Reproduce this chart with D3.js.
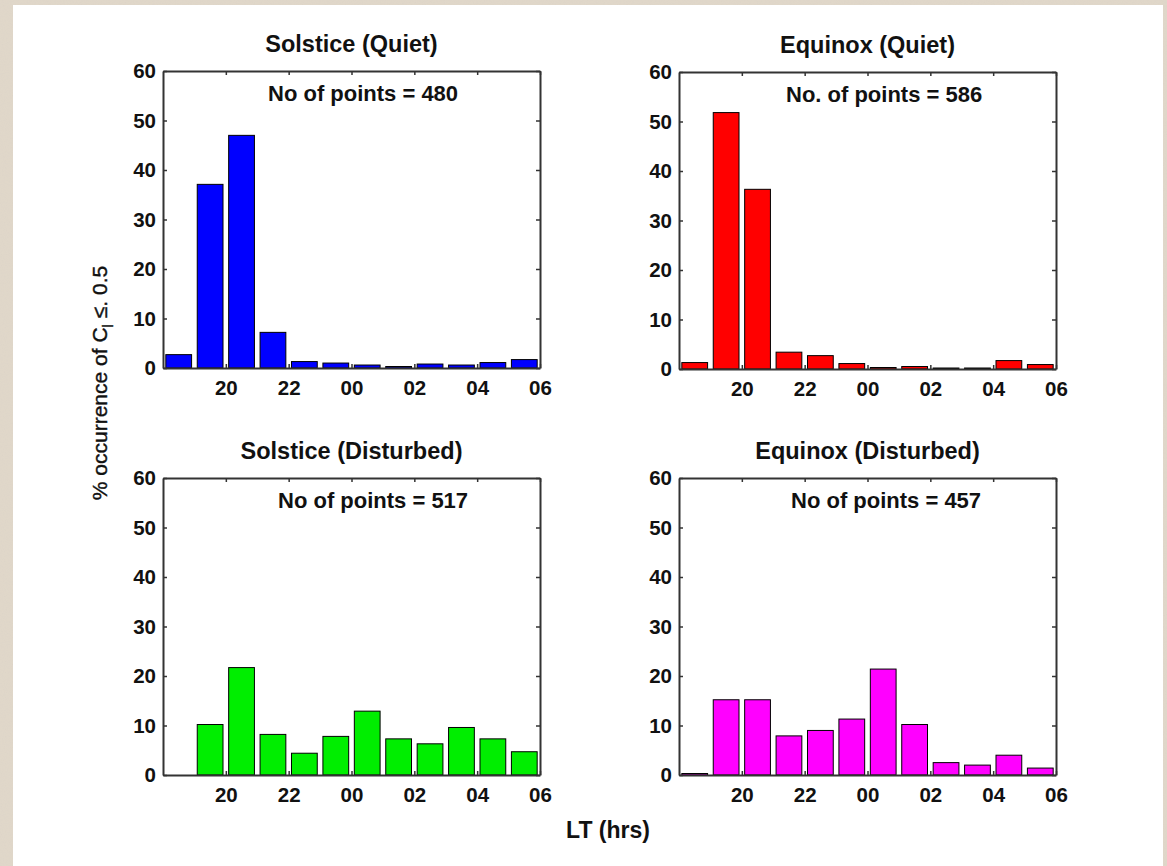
<!DOCTYPE html>
<html>
<head>
<meta charset="utf-8">
<script src="https://cdn.jsdelivr.net/npm/d3@7"></script>
<style>
  html, body { margin: 0; padding: 0; background: #ddd3c4; }
  svg { display: block; }
</style>
</head>
<body>
<svg id="chart" width="1167" height="866"></svg>
<script>
// hour bins (start of each 1-hour bin, 24+ means next day)
var bins = [18, 19, 20, 21, 22, 23, 24, 25, 26, 27, 28, 29];
var hourTicks = [20, 22, 24, 26, 28, 30];
var pctTicks = [0, 10, 20, 30, 40, 50, 60];

// % occurrence per bin
var solsticeQuiet = [2.7, 37.1, 47.0, 7.2, 1.3, 1.0, 0.6, 0.3, 0.8, 0.6, 1.1, 1.7];
var equinoxQuiet = [1.3, 51.8, 36.3, 3.4, 2.7, 1.1, 0.3, 0.5, 0.2, 0.2, 1.7, 0.9];
var solsticeDisturbed = [0, 10.2, 21.7, 8.2, 4.4, 7.8, 12.9, 7.3, 6.3, 9.6, 7.3, 4.7];
var equinoxDisturbed = [0.3, 15.2, 15.2, 7.9, 9.0, 11.3, 21.4, 10.2, 2.5, 2.0, 4.0, 1.4];

var panelTitles = ["Solstice (Quiet)", "Equinox (Quiet)", "Solstice (Disturbed)", "Equinox (Disturbed)"];
var pointCounts = ["No of points = 480", "No. of points = 586", "No of points = 517", "No of points = 457"];

var panels = [
    {title: panelTitles[0], note: pointCounts[0], values: solsticeQuiet, color: "#0000ff", left: 163, top: 71, noteX: 268},
    {title: panelTitles[1], note: pointCounts[1], values: equinoxQuiet, color: "#ff0000", left: 679, top: 72, noteX: 786},
    {title: panelTitles[2], note: pointCounts[2], values: solsticeDisturbed, color: "#00ee00", left: 163, top: 478, noteX: 278},
    {title: panelTitles[3], note: pointCounts[3], values: equinoxDisturbed, color: "#ff00ff", left: 679, top: 478, noteX: 791}
];

var svg = d3.select("#chart"),
    pw = 377,
    ph = 297,
    font = "Liberation Sans, Arial, sans-serif";

// paper texture around the white sheet
var defs = svg.append("defs");
var f = defs.append("filter").attr("id", "paper").attr("x", 0).attr("y", 0).attr("width", 1).attr("height", 1);
f.append("feTurbulence").attr("type", "fractalNoise").attr("baseFrequency", 0.9).attr("numOctaves", 2).attr("seed", 3);
f.append("feColorMatrix").attr("type", "matrix")
    .attr("values", "0 0 0 0 0.72  0 0 0 0 0.66  0 0 0 0 0.58  0 0 0 -2 1.3");

svg.append("rect").attr("width", 1167).attr("height", 866).attr("fill", "#e0d7c9");
svg.append("rect").attr("width", 1167).attr("height", 866).attr("filter", "url(#paper)").attr("opacity", 0.7);
svg.append("rect").attr("x", 13).attr("y", 5).attr("width", 1150).attr("height", 861).attr("fill", "#fff");

var fmtHour = function (d) {
    var h = d % 24;
    return (h < 10 ? "0" : "") + h;
};

panels.forEach(function (p) {
    var x = d3.scaleLinear().domain([18, 30]).range([0, pw]);
    var y = d3.scaleLinear().domain([0, 60]).range([ph, 0]);
    var bw = (x(19) - x(18)) * 0.82;

    var g = svg.append("g").attr("transform", "translate(" + p.left + "," + p.top + ")");

    g.append("g")
        .selectAll("rect")
        .data(p.values)
        .enter().append("rect")
        .attr("x", function (d, i) { return x(bins[i] + 0.5) - bw / 2; })
        .attr("y", function (d) { return y(d); })
        .attr("width", bw)
        .attr("height", function (d) { return ph - y(d); })
        .attr("fill", p.color)
        .attr("stroke", "#000")
        .attr("stroke-width", 1);

    // axes, ticks pointing inwards like matlab
    var xb = g.append("g")
        .attr("transform", "translate(0," + ph + ")")
        .call(d3.axisBottom(x).tickValues(hourTicks).tickFormat(fmtHour).tickSizeInner(-4).tickSizeOuter(0).tickPadding(12));
    var xt = g.append("g")
        .call(d3.axisTop(x).tickValues(hourTicks).tickFormat("").tickSizeInner(-4).tickSizeOuter(0));
    var yl = g.append("g")
        .call(d3.axisLeft(y).tickValues(pctTicks).tickSizeInner(-4).tickSizeOuter(0).tickPadding(7));
    var yr = g.append("g")
        .attr("transform", "translate(" + pw + ",0)")
        .call(d3.axisRight(y).tickValues(pctTicks).tickFormat("").tickSizeInner(-4).tickSizeOuter(0));

    [xb, xt, yl, yr].forEach(function (a) {
        a.select(".domain").attr("stroke", "#333").attr("stroke-width", 2);
        a.selectAll(".tick line").attr("stroke", "#333").attr("stroke-width", 1.5);
        a.selectAll("text")
            .attr("font-family", font)
            .attr("font-size", 20.5)
            .attr("font-weight", "bold")
            .attr("fill", "#111");
    });

    svg.append("text")
        .attr("x", p.left + pw / 2)
        .attr("y", p.top - 19)
        .attr("text-anchor", "middle")
        .attr("font-family", font)
        .attr("font-size", 23.5)
        .attr("font-weight", "bold")
        .attr("fill", "#111")
        .text(p.title);

    svg.append("text")
        .attr("x", p.noteX)
        .attr("y", p.top + 30)
        .attr("font-family", font)
        .attr("font-size", 22)
        .attr("font-weight", "bold")
        .attr("fill", "#111")
        .text(p.note);
});

// shared axis labels
svg.append("text")
    .attr("x", 608)
    .attr("y", 838)
    .attr("text-anchor", "middle")
    .attr("font-family", font)
    .attr("font-size", 23)
    .attr("font-weight", "bold")
    .attr("fill", "#111")
    .text("LT (hrs)");

var yLab = svg.append("text")
    .attr("transform", "translate(107,383) rotate(-90)")
    .attr("text-anchor", "middle")
    .attr("font-family", font)
    .attr("font-size", 21)
    .attr("fill", "#111")
    .attr("stroke", "#111")
    .attr("stroke-width", 0.4);
yLab.append("tspan").text("% occurrence of C");
yLab.append("tspan").attr("font-size", 15).attr("dy", 6).text("l");
yLab.append("tspan").attr("dy", -6).text(" \u2264. 0.5");
</script>
</body>
</html>
